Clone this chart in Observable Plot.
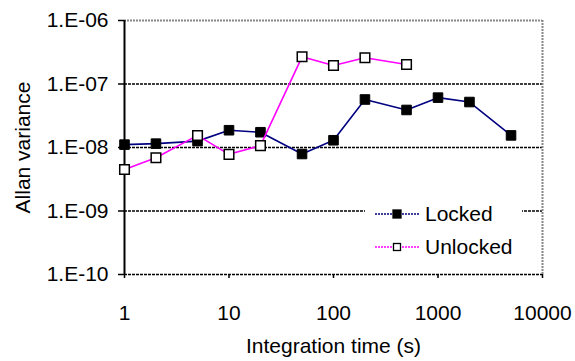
<!DOCTYPE html>
<html>
<head>
<meta charset="utf-8">
<script src="https://cdn.jsdelivr.net/npm/d3@7"></script>
<script src="https://cdn.jsdelivr.net/npm/@observablehq/plot@0.6"></script>
<style>
  html, body { margin: 0; padding: 0; background: #fff; }
  #wrap { position: relative; width: 575px; height: 361px; font-family: Arial, "Liberation Sans", sans-serif; }
  #legend { position: absolute; left: 365px; top: 199px; width: 157px; height: 62px; background: #fff; }
  #legend .row { position: absolute; left: 0; height: 24px; display: flex; align-items: center; font-size: 21px; color: #000; }
  #legend svg { margin-right: 6px; }
</style>
</head>
<body>
<div id="wrap">
  <div id="chart"></div>
  <div id="legend"></div>
</div>
<script>
const seriesNames = ["Locked", "Unlocked"];
const seriesColors = ["#000080", "#ff00ff"];
const xLocked = [1, 2, 5, 10, 20, 50, 100, 200, 500, 1000, 2000, 5000];
const yLocked = [1.11e-8, 1.15e-8, 1.26e-8, 1.87e-8, 1.74e-8, 7.9e-9, 1.3e-8, 5.7e-8, 3.9e-8, 6.1e-8, 5.2e-8, 1.55e-8];
const xUnlocked = [1, 2, 5, 10, 20, 50, 100, 200, 500];
const yUnlocked = [4.5e-9, 6.9e-9, 1.55e-8, 7.8e-9, 1.07e-8, 2.68e-7, 1.95e-7, 2.59e-7, 2.03e-7];
const xTicks = [1, 10, 100, 1000, 10000];
const yTicks = [1e-10, 1e-9, 1e-8, 1e-7, 1e-6];
const xTitle = "Integration time (s)";
const yTitle = "Allan variance";

const locked = xLocked.map((x, i) => ({x, y: yLocked[i]}));
const unlocked = xUnlocked.map((x, i) => ({x, y: yUnlocked[i]}));
const yFmt = d => "1.E-" + String(-Math.round(Math.log10(d))).padStart(2, "0");

const chart = Plot.plot({
  width: 575,
  height: 361,
  marginLeft: 124,
  marginRight: 33,
  marginTop: 20,
  marginBottom: 87,
  style: {fontFamily: "Arial, 'Liberation Sans', sans-serif", fontSize: "21px", color: "#000", background: "#fff"},
  x: {type: "log", domain: [xTicks[0], xTicks[xTicks.length - 1]]},
  y: {type: "log", domain: [yTicks[0], yTicks[yTicks.length - 1]]},
  marks: [
    Plot.ruleY(yTicks.slice(0, -1), {stroke: "#000", strokeWidth: 1.3, strokeDasharray: "3,1"}),
    Plot.ruleY(yTicks.slice(-1), {stroke: "#888", strokeWidth: 2, strokeDasharray: "2,1"}),
    Plot.ruleX(xTicks.slice(-1), {stroke: "#888", strokeWidth: 2, strokeDasharray: "2,1"}),
    Plot.ruleX(xTicks.slice(0, 1), {stroke: "#000", strokeWidth: 2}),
    Plot.axisX(xTicks, {tickSize: 4, tickPadding: 27, tickFormat: d => String(d), label: null, strokeWidth: 1.5}),
    Plot.axisY(yTicks, {tickSize: 6, tickPadding: 10, tickFormat: yFmt, label: null, strokeWidth: 1.5}),
    Plot.text([xTitle], {frameAnchor: "bottom", textAnchor: "middle", dy: 78, text: d => d, fill: "#000"}),
    Plot.text([yTitle], {frameAnchor: "left", textAnchor: "middle", dx: -101, rotate: -90, text: d => d, fill: "#000"}),
    Plot.line(locked, {x: "x", y: "y", stroke: seriesColors[0], strokeWidth: 1.6}),
    Plot.dot(locked, {x: "x", y: "y", symbol: "square", r: 5.4, fill: "#000", stroke: "#000", strokeWidth: 1}),
    Plot.line(unlocked, {x: "x", y: "y", stroke: seriesColors[1], strokeWidth: 1.6}),
    Plot.dot(unlocked, {x: "x", y: "y", symbol: "square", r: 5.4, fill: "#fff", stroke: "#000", strokeWidth: 1.5})
  ]
});
document.getElementById("chart").appendChild(chart);

// Legend
const legend = document.getElementById("legend");
seriesNames.forEach((name, i) => {
  const row = document.createElement("div");
  row.className = "row";
  row.style.top = (i === 0 ? 3 : 36) + "px";
  const fill = i === 0 ? "#000" : "#fff";
  const s = i === 0 ? 8 : 7;
  row.innerHTML = `<svg width="54" height="20"><line x1="10" y1="10" x2="54" y2="10" stroke="${seriesColors[i]}" stroke-width="1.6" stroke-dasharray="2,1"/><rect x="${32 - s/2}" y="${10 - s/2}" width="${s}" height="${s}" fill="${fill}" stroke="#000" stroke-width="1.3"/></svg><span>${name}</span>`;
  legend.appendChild(row);
});
</script>
</body>
</html>
